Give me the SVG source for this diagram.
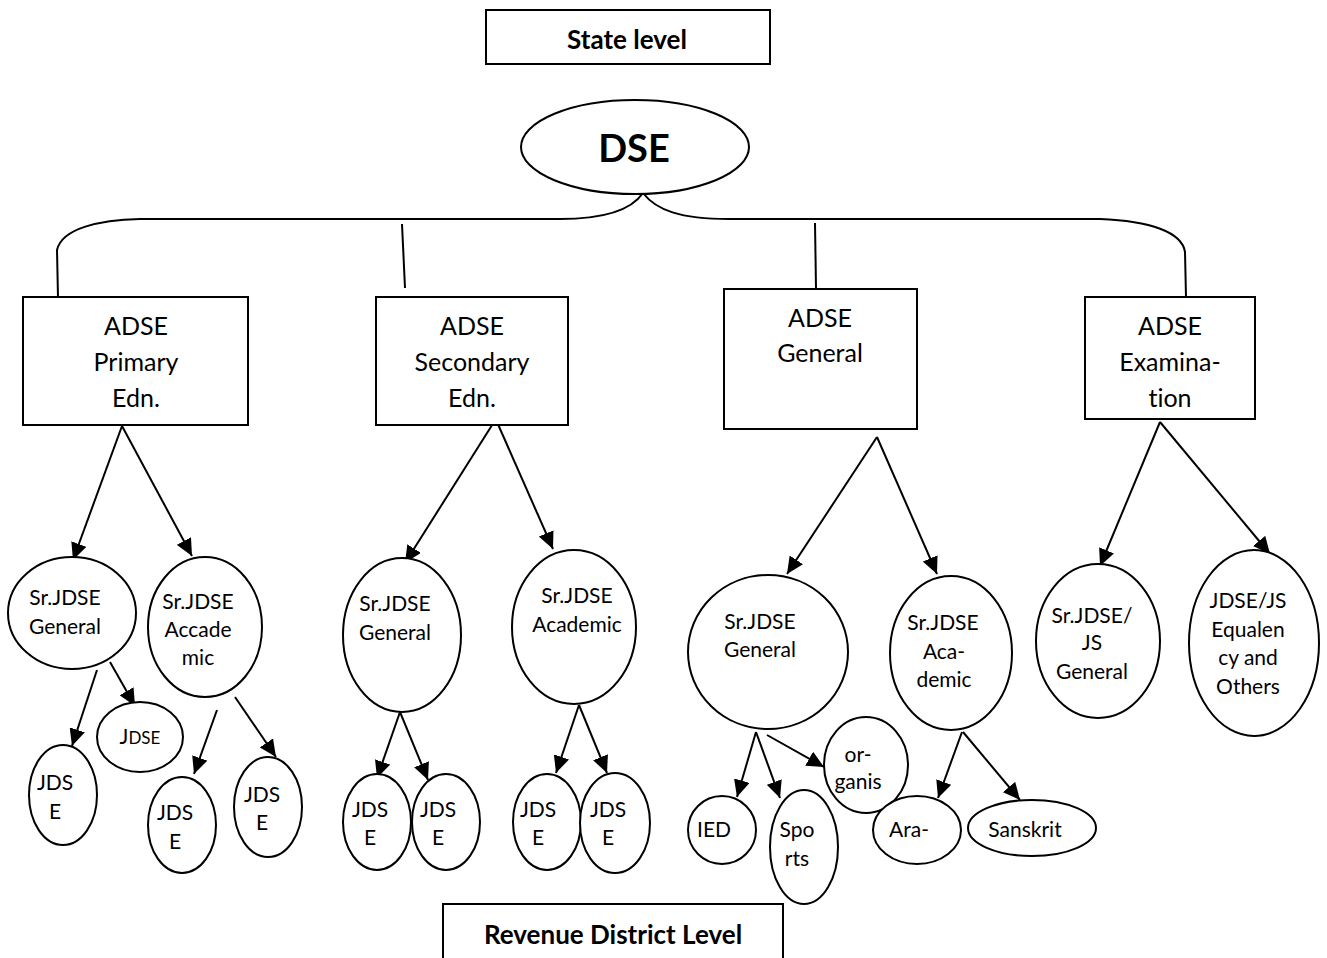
<svg xmlns="http://www.w3.org/2000/svg" width="1327" height="958" viewBox="0 0 1327 958">
<defs>
<style>
text{font-variant-ligatures:none;font-feature-settings:"liga" 0}
.s{fill:#fff;stroke:#000;stroke-width:2}
.c{fill:none;stroke:#000;stroke-width:2}
.t{font-family:Lato,"Liberation Sans",sans-serif;font-size:21px;fill:#000;text-anchor:middle}
.b{font-family:Lato,"Liberation Sans",sans-serif;font-size:25px;fill:#000;text-anchor:middle}
.h{font-family:Lato,"Liberation Sans",sans-serif;font-weight:bold;font-size:26px;fill:#000;text-anchor:middle}
</style>
<marker id="ah" markerUnits="userSpaceOnUse" markerWidth="18" markerHeight="16" refX="17" refY="8" orient="auto">
<path d="M0,0 L17,8 L0,16 z" fill="#000"/>
</marker>
</defs>
<rect width="1327" height="958" fill="#fff"/>

<g id="state-level"><rect class="s" x="486" y="10" width="284" height="54"/><text class="h" x="627" y="49">State level</text></g>
<g id="revenue-level"><rect class="s" x="443" y="904" width="340" height="60"/><text class="h" x="613" y="944">Revenue District Level</text></g>

<g id="connectors">
<path class="c" d="M58,297 L57,250 C62,228 100,220 140,219 L560,219 C600,219 630,212 643,193 C656,210 680,219 729,219 L1100,219 C1150,221 1182,232 1185,252 L1186,297"/>
<line class="c" x1="402" y1="224" x2="405" y2="288"/>
<line class="c" x1="815" y1="223" x2="816" y2="288"/>
<g marker-end="url(#ah)" class="c">
<line x1="122" y1="426" x2="73" y2="560"/>
<line x1="122" y1="426" x2="192" y2="556"/>
<line x1="494" y1="422" x2="405" y2="563"/>
<line x1="497" y1="422" x2="553" y2="549"/>
<line x1="877" y1="437" x2="787" y2="574"/>
<line x1="877" y1="437" x2="937" y2="574"/>
<line x1="1160" y1="422" x2="1100" y2="566"/>
<line x1="1160" y1="422" x2="1270" y2="554"/>
<line x1="97" y1="670" x2="72" y2="746"/>
<line x1="110" y1="662" x2="135" y2="706"/>
<line x1="217" y1="710" x2="194" y2="774"/>
<line x1="235" y1="697" x2="276" y2="757"/>
<line x1="400" y1="712" x2="377" y2="778"/>
<line x1="400" y1="712" x2="428" y2="780"/>
<line x1="579" y1="705" x2="556" y2="773"/>
<line x1="579" y1="705" x2="607" y2="773"/>
<line x1="756" y1="732" x2="737" y2="797"/>
<line x1="756" y1="732" x2="780" y2="798"/>
<line x1="767" y1="735" x2="824" y2="767"/>
<line x1="962" y1="732" x2="938" y2="798"/>
<line x1="963" y1="732" x2="1020" y2="800"/>
</g>
</g>

<g id="dse"><ellipse class="s" cx="635" cy="147" rx="114" ry="47"/><text class="h" style="font-size:38px" x="634" y="162">DSE</text></g>

<g id="adse-primary"><rect class="s" x="23" y="297" width="225" height="128"/><text class="b" x="136" y="335">ADSE</text><text class="b" x="136" y="371">Primary</text><text class="b" x="136" y="407">Edn.</text></g>
<g id="adse-secondary"><rect class="s" x="376" y="297" width="192" height="128"/><text class="b" x="472" y="335">ADSE</text><text class="b" x="472" y="371">Secondary</text><text class="b" x="472" y="407">Edn.</text></g>
<g id="adse-general"><rect class="s" x="724" y="289" width="193" height="140"/><text class="b" x="820" y="327">ADSE</text><text class="b" x="820" y="362">General</text></g>
<g id="adse-exam"><rect class="s" x="1085" y="297" width="170" height="122"/><text class="b" x="1170" y="335">ADSE</text><text class="b" x="1170" y="371">Examina-</text><text class="b" x="1170" y="407">tion</text></g>

<g id="p-gen"><ellipse class="s" cx="72" cy="613" rx="64" ry="56"/><text class="t" x="65" y="605">Sr.JDSE</text><text class="t" x="65" y="634">General</text></g>
<g id="p-acad"><ellipse class="s" cx="205" cy="627" rx="57" ry="70"/><text class="t" x="198" y="609">Sr.JDSE</text><text class="t" x="198" y="637">Accade</text><text class="t" x="198" y="665">mic</text></g>
<g id="p-jdse1"><ellipse class="s" cx="140" cy="737" rx="43" ry="35"/><text class="t" x="140" y="744">J<tspan style="font-size:17px">DSE</tspan></text></g>
<g id="p-jdse2"><ellipse class="s" cx="63" cy="795" rx="34" ry="50"/><text class="t" x="55" y="790">JDS</text><text class="t" x="55" y="819">E</text></g>
<g id="p-jdse3"><ellipse class="s" cx="182" cy="825" rx="34" ry="48"/><text class="t" x="175" y="820">JDS</text><text class="t" x="175" y="849">E</text></g>
<g id="p-jdse4"><ellipse class="s" cx="268" cy="807" rx="34" ry="50"/><text class="t" x="262" y="802">JDS</text><text class="t" x="262" y="830">E</text></g>

<g id="s-gen"><ellipse class="s" cx="402" cy="635" rx="59" ry="77"/><text class="t" x="395" y="611">Sr.JDSE</text><text class="t" x="395" y="640">General</text></g>
<g id="s-acad"><ellipse class="s" cx="574" cy="627" rx="62" ry="77"/><text class="t" x="577" y="603">Sr.JDSE</text><text class="t" x="577" y="632">Academic</text></g>
<g id="s-jdse1"><ellipse class="s" cx="377" cy="822" rx="34" ry="48"/><text class="t" x="370" y="817">JDS</text><text class="t" x="370" y="845">E</text></g>
<g id="s-jdse2"><ellipse class="s" cx="446" cy="822" rx="34" ry="48"/><text class="t" x="438" y="817">JDS</text><text class="t" x="438" y="845">E</text></g>
<g id="s-jdse3"><ellipse class="s" cx="547" cy="822" rx="34" ry="48"/><text class="t" x="538" y="817">JDS</text><text class="t" x="538" y="845">E</text></g>
<g id="s-jdse4"><ellipse class="s" cx="615" cy="823" rx="35" ry="50"/><text class="t" x="608" y="817">JDS</text><text class="t" x="608" y="845">E</text></g>

<g id="g-gen"><ellipse class="s" cx="768" cy="652" rx="80" ry="77"/><text class="t" x="760" y="629">Sr.JDSE</text><text class="t" x="760" y="657">General</text></g>
<g id="g-acad"><ellipse class="s" cx="951" cy="653" rx="61" ry="77"/><text class="t" x="943" y="630">Sr.JDSE</text><text class="t" x="944" y="659">Aca-</text><text class="t" x="944" y="687">demic</text></g>
<g id="g-org"><ellipse class="s" cx="866" cy="765" rx="42" ry="48"/><text class="t" x="858" y="762">or-</text><text class="t" x="858" y="789">ganis</text></g>
<g id="g-ied"><ellipse class="s" cx="722" cy="830" rx="34" ry="34"/><text class="t" x="714" y="837">IED</text></g>
<g id="g-sports"><ellipse class="s" cx="804" cy="847" rx="34" ry="57"/><text class="t" x="797" y="837">Spo</text><text class="t" x="797" y="866">rts</text></g>
<g id="g-arabic"><ellipse class="s" cx="917" cy="830" rx="44" ry="34"/><text class="t" x="909" y="837">Ara-</text></g>
<g id="g-sanskrit"><ellipse class="s" cx="1032" cy="828" rx="64" ry="28"/><text class="t" x="1025" y="837">Sanskrit</text></g>

<g id="e-gen"><ellipse class="s" cx="1098" cy="641" rx="62" ry="77"/><text class="t" x="1092" y="623">Sr.JDSE/</text><text class="t" x="1092" y="650">JS</text><text class="t" x="1092" y="679">General</text></g>
<g id="e-eq"><ellipse class="s" cx="1254" cy="643" rx="65" ry="93"/><text class="t" x="1248" y="608">JDSE/JS</text><text class="t" x="1248" y="637">Equalen</text><text class="t" x="1248" y="665">cy and</text><text class="t" x="1248" y="694">Others</text></g>
</svg>
